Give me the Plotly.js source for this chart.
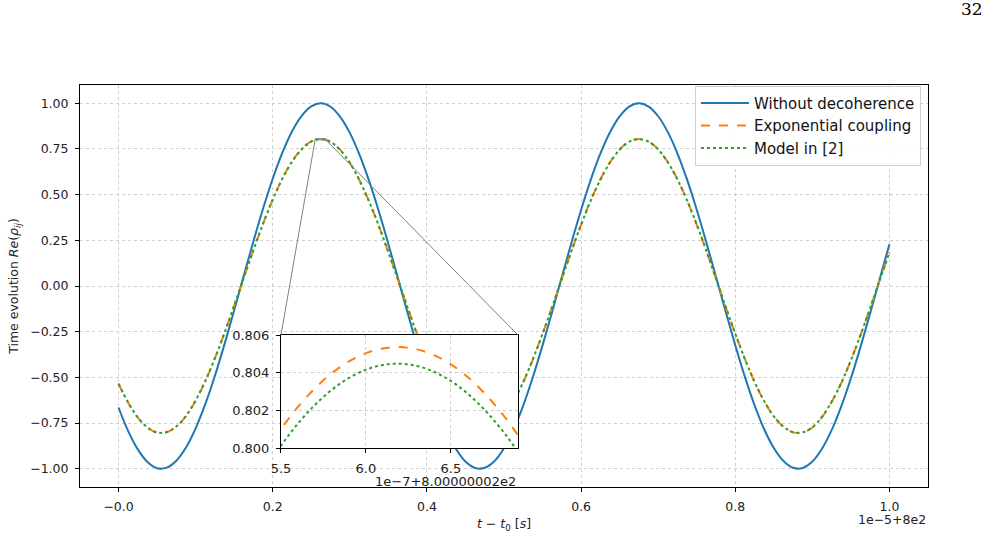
<!DOCTYPE html>
<html><head><meta charset="utf-8">
<script src="https://cdn.plot.ly/plotly-3.0.1.min.js"></script>
<style>html,body{margin:0;padding:0;background:#fff}#chart{width:1000px;height:536px}</style>
</head><body><div id="chart"></div>
<script>
// main time axis, in units of 1e-5 with offset 8e2
const tMain = [0,0.0125,0.025,0.0375,0.05,0.0625,0.075,0.0875,0.1,0.1125,0.125,0.1375,0.15,0.1625,0.175,0.1875,0.2,0.2125,0.225,0.2375,0.25,0.2625,0.275,0.2875,0.3,0.3125,0.325,0.3375,0.35,0.3625,0.375,0.3875,0.4,0.4125,0.425,0.4375,0.45,0.4625,0.475,0.4875,0.5,0.5125,0.525,0.5375,0.55,0.5625,0.575,0.5875,0.6,0.6125,0.625,0.6375,0.65,0.6625,0.675,0.6875,0.7,0.7125,0.725,0.7375,0.75,0.7625,0.775,0.7875,0.8,0.8125,0.825,0.8375,0.85,0.8625,0.875,0.8875,0.9,0.9125,0.925,0.9375,0.95,0.9625,0.975,0.9875,1.0];
const withoutDecoherence = [-0.665,-0.794,-0.894,-0.963,-0.997,-0.994,-0.956,-0.884,-0.779,-0.647,-0.491,-0.318,-0.133,0.057,0.245,0.424,0.587,0.730,0.846,0.931,0.983,1.000,0.981,0.926,0.838,0.719,0.575,0.410,0.230,0.042,-0.148,-0.332,-0.504,-0.658,-0.789,-0.891,-0.961,-0.996,-0.995,-0.959,-0.888,-0.784,-0.653,-0.498,-0.325,-0.141,0.049,0.237,0.416,0.581,0.724,0.841,0.928,0.982,1.000,0.982,0.929,0.842,0.725,0.582,0.417,0.238,0.050,-0.140,-0.324,-0.497,-0.652,-0.784,-0.887,-0.958,-0.995,-0.996,-0.961,-0.891,-0.789,-0.659,-0.505,-0.333,-0.149,0.041,0.229];
const exponentialCoupling = [-0.535,-0.639,-0.720,-0.775,-0.803,-0.800,-0.770,-0.712,-0.627,-0.521,-0.395,-0.256,-0.107,0.046,0.197,0.341,0.473,0.588,0.681,0.749,0.791,0.805,0.790,0.745,0.675,0.579,0.463,0.330,0.185,0.034,-0.119,-0.267,-0.406,-0.530,-0.635,-0.717,-0.774,-0.802,-0.801,-0.772,-0.715,-0.631,-0.526,-0.401,-0.262,-0.114,0.039,0.191,0.335,0.468,0.583,0.677,0.747,0.791,0.805,0.791,0.748,0.678,0.584,0.469,0.336,0.192,0.040,-0.113,-0.261,-0.400,-0.525,-0.631,-0.714,-0.771,-0.801,-0.802,-0.774,-0.717,-0.635,-0.531,-0.407,-0.268,-0.120,0.033,0.184];
const modelIn2 = [-0.534,-0.638,-0.719,-0.774,-0.802,-0.799,-0.769,-0.711,-0.626,-0.520,-0.395,-0.256,-0.107,0.046,0.197,0.341,0.472,0.587,0.680,0.748,0.790,0.804,0.789,0.744,0.674,0.578,0.462,0.330,0.185,0.034,-0.119,-0.267,-0.405,-0.529,-0.634,-0.716,-0.773,-0.801,-0.800,-0.771,-0.714,-0.630,-0.525,-0.400,-0.261,-0.114,0.039,0.191,0.335,0.467,0.582,0.676,0.746,0.790,0.804,0.790,0.747,0.677,0.583,0.468,0.336,0.192,0.040,-0.113,-0.261,-0.400,-0.524,-0.630,-0.713,-0.770,-0.800,-0.801,-0.773,-0.716,-0.634,-0.530,-0.406,-0.268,-0.120,0.033,0.184];

// inset: time in units of 1e-7 with offset 8.00000002e2
const tInset = [5.4,5.5,5.6,5.7,5.8,5.9,6.0,6.1,6.2,6.3,6.4,6.5,6.6,6.7,6.8,6.9,7.0];
const insetExponential = [0.79963,0.80100,0.80218,0.80317,0.80398,0.80460,0.80504,0.80529,0.80536,0.80524,0.80493,0.80444,0.80376,0.80289,0.80184,0.80061,0.79918];
const insetModel = [0.79875,0.80012,0.80130,0.80229,0.80310,0.80372,0.80416,0.80441,0.80448,0.80436,0.80405,0.80356,0.80288,0.80201,0.80096,0.79973,0.79830];

const seriesNames = ['Without decoherence','Exponential coupling','Model in [2]'];
const mainTickVals = [0,0.2,0.4,0.6,0.8,1.0];
const mainTickText = ['\u22120.0','0.2','0.4','0.6','0.8','1.0'];
const mainYTicks = [-1,-0.75,-0.5,-0.25,0,0.25,0.5,0.75,1];
const insetXTicks = [5.5,6.0,6.5];
const insetYTicks = [0.800,0.802,0.804,0.806];

const mainOffset = 800, mainScale = 1e-5;
const insetOffset = 800.000002, insetScale = 1e-7;

const colors = ['#1f77b4','#ff7f0e','#2ca02c'];
const mainXR = [-0.05, 1.05], mainYR = [-1.1, 1.1];
const insetXR = [5.5, 6.895], insetYR = [0.800, 0.806];
const insetXD = [0.237, 0.5165], insetYD = [0.097, 0.378];

const FONT = 'DejaVu Sans, sans-serif';
const tickFont = {family: FONT, size: 12.5, color: '#222'};
const insetTickFont = {family: FONT, size: 13, color: '#222'};

const traces = [
  {x: tMain, y: withoutDecoherence, name: seriesNames[0], mode: 'lines', line: {color: colors[0], width: 2, shape: 'spline'}, xaxis: 'x', yaxis: 'y'},
  {x: tMain, y: exponentialCoupling, name: seriesNames[1], mode: 'lines', line: {color: colors[1], width: 2, dash: 'dash', shape: 'spline'}, xaxis: 'x', yaxis: 'y'},
  {x: tMain, y: modelIn2, name: seriesNames[2], mode: 'lines', line: {color: colors[2], width: 2, dash: 'dot', shape: 'spline'}, xaxis: 'x', yaxis: 'y'},
  {x: tInset, y: insetExponential, name: seriesNames[1], showlegend: false, mode: 'lines', line: {color: colors[1], width: 2, dash: 'dash', shape: 'spline'}, xaxis: 'x2', yaxis: 'y2'},
  {x: tInset, y: insetModel, name: seriesNames[2], showlegend: false, mode: 'lines', line: {color: colors[2], width: 2, dash: 'dot', shape: 'spline'}, xaxis: 'x2', yaxis: 'y2'}
];

// zoom box in main coordinates
const toMain = v => (insetOffset - mainOffset) / mainScale + v * insetScale / mainScale;
const boxX0 = toMain(insetXR[0]), boxX1 = toMain(insetXR[1]);
const cornerX0 = mainXR[0] + insetXD[0] * (mainXR[1] - mainXR[0]);
const cornerX1 = mainXR[0] + insetXD[1] * (mainXR[1] - mainXR[0]);
const cornerYTop = mainYR[0] + insetYD[1] * (mainYR[1] - mainYR[0]);

const shapes = [
  {type: 'rect', xref: 'x', yref: 'y', x0: boxX0, x1: boxX1, y0: insetYR[0], y1: insetYR[1], line: {color: '#808080', width: 1}, layer: 'above'},
  {type: 'line', xref: 'x', yref: 'y', x0: boxX0, y0: insetYR[0], x1: cornerX0, y1: cornerYTop, line: {color: '#808080', width: 1}, layer: 'above'},
  {type: 'line', xref: 'x', yref: 'y', x0: boxX1, y0: insetYR[0], x1: cornerX1, y1: cornerYTop, line: {color: '#808080', width: 1}, layer: 'above'}
];

const axisCommon = {
  showline: true, mirror: true, linecolor: '#000', linewidth: 1,
  ticks: 'outside', ticklen: 4, tickcolor: '#000', tickwidth: 1,
  showgrid: true, gridcolor: '#cfcfcf', griddash: 'dot', gridwidth: 1,
  zeroline: false, tickfont: tickFont, ticklabelstandoff: 4
};

const layout = {
  width: 1000, height: 536,
  margin: {l: 80, r: 72, t: 85, b: 49},
  paper_bgcolor: '#fff', plot_bgcolor: '#fff',
  showlegend: true,
  legend: {x: 0.9917, xanchor: 'right', y: 0.998, yanchor: 'top', bgcolor: 'rgba(255,255,255,0.85)', bordercolor: '#d0d0d0', borderwidth: 1, font: {family: FONT, size: 15, color: '#111'}, tracegroupgap: 0, itemwidth: 48},
  xaxis: Object.assign({}, axisCommon, {domain: [0, 1], anchor: 'y', range: mainXR, tickvals: mainTickVals, ticktext: mainTickText,
    title: {text: '<i>t</i> \u2212 <i>t</i><sub>0</sub> [<i>s</i>]', font: {family: FONT, size: 12.5, color: '#222'}, standoff: 6}}),
  yaxis: Object.assign({}, axisCommon, {domain: [0, 1], anchor: 'x', range: mainYR, tickvals: mainYTicks, tickformat: '.2f',
    title: {text: 'Time evolution <i>Re</i>(<i>\u03c1<sub>ij</sub></i>)', font: {family: FONT, size: 12.5, color: '#222'}, standoff: 8}}),
  xaxis2: Object.assign({}, axisCommon, {domain: insetXD, anchor: 'y2', range: insetXR, tickvals: insetXTicks, tickformat: '.1f', tickfont: insetTickFont}),
  yaxis2: Object.assign({}, axisCommon, {domain: insetYD, anchor: 'x2', range: insetYR, tickvals: insetYTicks, tickformat: '.3f', tickfont: insetTickFont}),
  shapes: shapes,
  annotations: [
    {xref: 'paper', yref: 'paper', x: 1, y: -0.08, xanchor: 'right', yanchor: 'middle', showarrow: false, text: '1e\u22125+8e2', font: {family: FONT, size: 12.5, color: '#222'}},
    {xref: 'paper', yref: 'paper', x: insetXD[1], y: 0.013, xanchor: 'right', yanchor: 'middle', showarrow: false, text: '1e\u22127+8.00000002e2', font: {family: FONT, size: 13, color: '#222'}},
    {xref: 'paper', yref: 'paper', x: 1.067, y: 1.19, xanchor: 'right', yanchor: 'middle', showarrow: false, text: '32', font: {family: 'DejaVu Serif, serif', size: 17, color: '#000'}}
  ]
};

Plotly.newPlot('chart', traces, layout, {staticPlot: true, displayModeBar: false});
</script>
</body></html>
